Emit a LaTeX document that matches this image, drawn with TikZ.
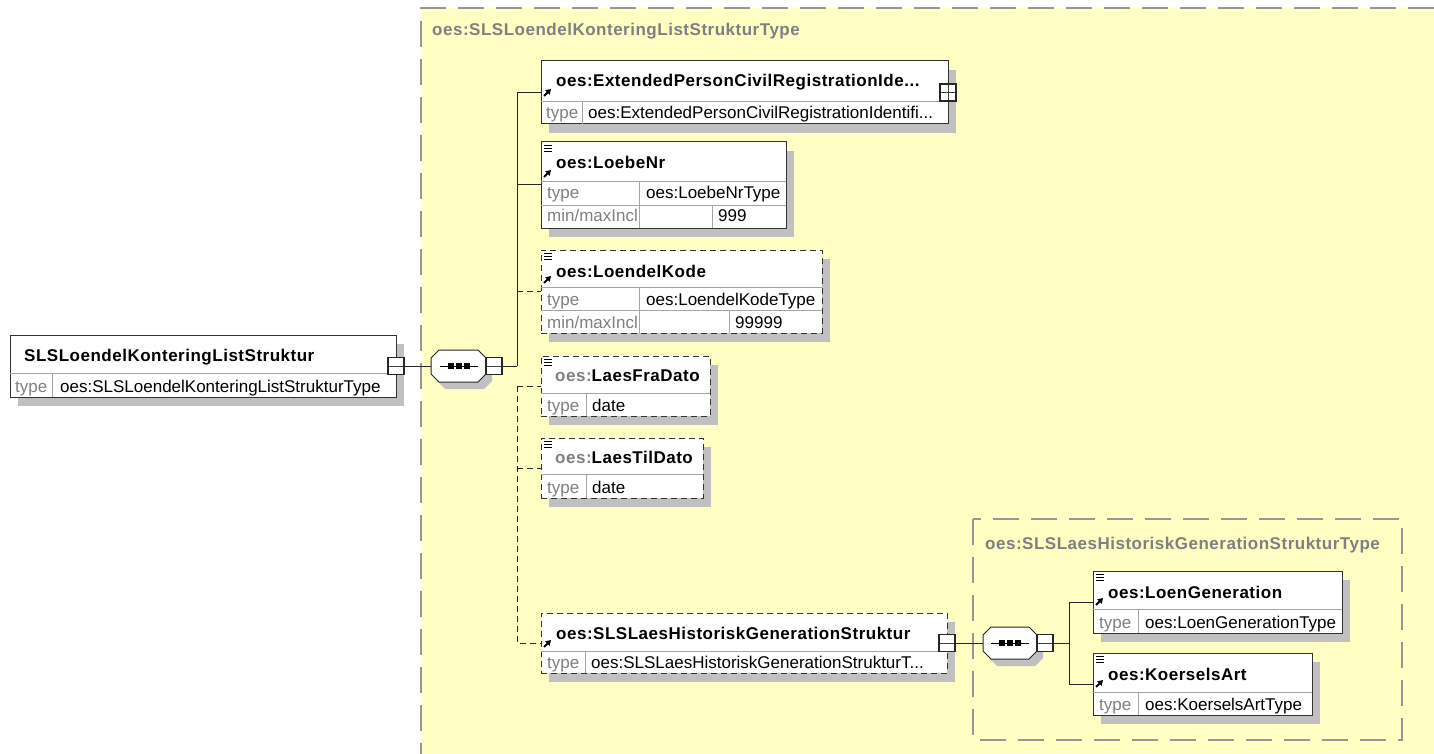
\documentclass[tikz,border=0pt]{standalone}
\usepackage{fontspec}
\setmainfont{Liberation Sans}
\newfontfamily\hdrfamily{Liberation Sans}[LetterSpace=3]
\usetikzlibrary{shadows,arrows.meta}
\definecolor{yel}{RGB}{255,255,196}
\definecolor{shadowc}{RGB}{192,192,192}
\definecolor{lblc}{RGB}{128,128,128}
\definecolor{gridc}{RGB}{165,165,165}
\definecolor{regc}{RGB}{150,150,150}
\newcommand\regfont{\fontsize{17}{20}\selectfont}
\newcommand\hdrfont{\hdrfamily\bfseries\fontsize{17}{20}\selectfont}
\tikzset{
 shadowed/.style={drop shadow={shadow xshift=8pt, shadow yshift=-9pt, fill=shadowc, opacity=1}},
 ebox/.style={draw=black!80, line width=1pt, fill=white, inner sep=0pt, outer sep=0pt, anchor=north west, shadowed},
 obox/.style={ebox, dash pattern=on 6pt off 4pt},
 grid/.style={draw=gridc, line width=0.8pt},
 conn/.style={draw=black!85, line width=1pt},
 dconn/.style={conn, dash pattern=on 6pt off 4pt},
 region/.style={draw=regc, line width=1.2pt, dash pattern=on 26pt off 12pt},
 hdr/.style={anchor=base west, inner sep=0pt, font=\hdrfont},
 hdrg/.style={hdr, text=lblc},
 lab/.style={anchor=base west, inner sep=0pt, font=\regfont, text=lblc},
 val/.style={anchor=base west, inner sep=0pt, font=\regfont},
 tog/.style={draw=black!85, line width=1.2pt, fill=white, minimum width=16pt, minimum height=17pt, inner sep=0pt, outer sep=0pt},
 minusbox/.style={tog, path picture={\draw[line width=0.8pt, black!75] (path picture bounding box.west) -- (path picture bounding box.east);}},
 plusbox/.style={tog, path picture={\draw[line width=0.8pt, black!75] (path picture bounding box.west) -- (path picture bounding box.east) (path picture bounding box.north) -- (path picture bounding box.south);}},
 seqnode/.style={minimum width=55pt, minimum height=32pt, inner sep=0pt, outer sep=0pt},
}
% element box: style, name, x, y, width, height
\newcommand\elem[6]{\node[#1, minimum width=#5pt, minimum height=#6pt] (#2) at (#3,#4) {};}
% text: style, name, x, y, text
\newcommand\txt[5]{\node[#1] (#2) at (#3,#4) {#5};}
% menu icon at box top-left
\newcommand\menuicon[2]{\draw[line width=0.8pt] ({#1+3},{#2+3.5}) -- ({#1+11},{#2+3.5}) ({#1+3},{#2+6.5}) -- ({#1+11},{#2+6.5}) ({#1+3},{#2+9.5}) -- ({#1+11},{#2+9.5});}
% reference arrow: left x, bottom y
\newcommand\refarrow[2]{\draw[line width=2pt, -{Triangle[length=5pt,width=6pt]}] ({#1+3},{#2-1}) -- ({#1+10},{#2-8});}
% octagon: style, cx, cy, half width
\newcommand\oct[4]{\path[#1] ({#2-#4+8},{#3-16}) -- ({#2+#4-8},{#3-16}) -- ({#2+#4},{#3-8}) -- ({#2+#4},{#3+8}) -- ({#2+#4-8},{#3+16}) -- ({#2-#4+8},{#3+16}) -- ({#2-#4},{#3+8}) -- ({#2-#4},{#3-8}) -- cycle;}
\newcommand\seqsym[2]{\draw[line width=0.9pt] ({#1-19},#2) -- ({#1+19},#2);
 \fill ({#1-11},{#2-3}) rectangle ({#1-5},{#2+3});
 \fill ({#1-3},{#2-3}) rectangle ({#1+3},{#2+3});
 \fill ({#1+5},{#2-3}) rectangle ({#1+11},{#2+3});}
\begin{document}
\begin{tikzpicture}[x=1pt,y=-1pt]
\clip (0,0) rectangle (1434,754);
\fill[white] (0,0) rectangle (1434,754);
% regions
\fill[yel] (421,8) rectangle (1434,754);
\path[region] (1434,8) -- (421,8) -- (421,754);
\txt{hdrg}{rt1}{432}{36}{oes:SLSLoendelKonteringListStrukturType}
\path[region] (973,519) rectangle (1402,740);
\txt{hdrg}{rt2}{985}{549}{oes:SLSLaesHistoriskGenerationStrukturType}

% root element
\elem{ebox}{e0}{10}{335}{386}{62}
\draw[grid] (10,373) -- (396,373) (52,373) -- (52,397);
\txt{hdr}{t0}{24}{361}{SLSLoendelKonteringListStruktur}
\txt{lab}{t0a}{15}{392}{type}
\txt{val}{t0b}{60}{392}{oes:SLSLoendelKonteringListStrukturType}
\node[minusbox] (m0) at (e0.east) {};

% sequence 1
\oct{fill=shadowc}{464.5}{373}{27.5}
\oct{draw=black!85, line width=1pt, fill=white}{458.5}{366}{27.5}
\node[seqnode] (s1) at (458.5,366) {};
\seqsym{458.5}{366}
\node[minusbox, anchor=west] (m1) at (s1.east) {};
\coordinate (j1) at (517,366);

% children
\elem{ebox}{e1}{541}{61}{407}{63}
\draw[grid] (541,101) -- (948,101) (582,101) -- (582,124);
\txt{hdr}{t1}{556}{87}{oes:ExtendedPersonCivilRegistrationIde...}
\txt{lab}{t1a}{546}{119}{type}
\txt{val}{t1b}{588}{119}{oes:ExtendedPersonCivilRegistrationIdentifi...}
\refarrow{541}{97}
\node[plusbox] (p1) at (e1.east) {};

\elem{ebox}{e2}{541}{142}{245}{86}
\draw[grid] (541,181) -- (786,181) (541,205) -- (786,205) (639,181) -- (639,228) (712,205) -- (712,228);
\menuicon{541}{142}
\refarrow{541}{178}
\txt{hdr}{t2}{556}{169}{oes:LoebeNr}
\txt{lab}{t2a}{547}{199}{type}
\txt{val}{t2b}{646}{199}{oes:LoebeNrType}
\txt{lab}{t2c}{547}{222}{min/maxIncl}
\txt{val}{t2d}{718}{222}{999}

\elem{obox}{e3}{541}{250}{281}{83}
\draw[grid] (541,287) -- (822,287) (541,310) -- (822,310) (639,287) -- (639,333) (729,310) -- (729,333);
\menuicon{541}{250}
\refarrow{541}{284}
\txt{hdr}{t3}{556}{277}{oes:LoendelKode}
\txt{lab}{t3a}{547}{305}{type}
\txt{val}{t3b}{646}{305}{oes:LoendelKodeType}
\txt{lab}{t3c}{547}{328}{min/maxIncl}
\txt{val}{t3d}{735}{328}{99999}

\elem{obox}{e4}{541}{356}{169}{60}
\draw[grid] (541,393) -- (710,393) (586,393) -- (586,416);
\menuicon{541}{356}
\txt{hdr}{t4}{555}{381}{\textcolor{lblc}{oes:}LaesFraDato}
\txt{lab}{t4a}{547}{411}{type}
\txt{val}{t4b}{592}{411}{date}

\elem{obox}{e5}{541}{438}{162}{60}
\draw[grid] (541,474) -- (703,474) (586,474) -- (586,498);
\menuicon{541}{438}
\txt{hdr}{t5}{555}{463}{\textcolor{lblc}{oes:}LaesTilDato}
\txt{lab}{t5a}{547}{493}{type}
\txt{val}{t5b}{592}{493}{date}

\elem{obox}{e6}{541}{613}{406}{60}
\draw[grid] (541,651) -- (947,651) (585,651) -- (585,673);
\refarrow{541}{648}
\txt{hdr}{t6}{556}{639}{oes:SLSLaesHistoriskGenerationStruktur}
\txt{lab}{t6a}{547}{668}{type}
\txt{val}{t6b}{591}{668}{oes:SLSLaesHistoriskGenerationStrukturT...}
\node[minusbox] (m6) at (e6.east) {};

% sequence 2
\oct{fill=shadowc}{1016}{650}{27}
\oct{draw=black!85, line width=1pt, fill=white}{1010}{643}{27}
\node[seqnode, minimum width=54pt] (s2) at (1010,643) {};
\seqsym{1010}{643}
\node[minusbox, anchor=west] (m7) at (s2.east) {};
\coordinate (j2) at (1069,643);

\elem{ebox}{e7}{1093}{571}{249}{62}
\draw[grid] (1093,609) -- (1342,609) (1138,609) -- (1138,633);
\menuicon{1093}{571}
\refarrow{1093}{606}
\txt{hdr}{t7}{1108}{598}{oes:LoenGeneration}
\txt{lab}{t7a}{1099}{628}{type}
\txt{val}{t7b}{1145}{628}{oes:LoenGenerationType}

\elem{ebox}{e8}{1093}{653}{219}{62}
\draw[grid] (1093,692) -- (1312,692) (1138,692) -- (1138,715);
\menuicon{1093}{653}
\refarrow{1093}{688}
\txt{hdr}{t8}{1108}{680}{oes:KoerselsArt}
\txt{lab}{t8a}{1099}{710}{type}
\txt{val}{t8b}{1145}{710}{oes:KoerselsArtType}

% connectors
\draw[conn] (m0.east) -- (s1.west);
\draw[conn] (m1.east) -- (j1);
\draw[conn] (j1) |- (e1.west);
\draw[conn] (e2.west -| j1) -- (e2.west);
\draw[dconn] (e3.west -| j1) -- (e3.west);
\draw[dconn] (e4.west -| j1) |- (e6.west);
\draw[dconn] (e4.west -| j1) -- (e4.west);
\draw[dconn] (e5.west -| j1) -- (e5.west);
\draw[conn] (m6.east) -- (s2.west);
\draw[conn] (m7.east) -- (j2);
\draw[conn] (j2) |- (e7.west);
\draw[conn] (j2) |- (e8.west);
\end{tikzpicture}
\end{document}
